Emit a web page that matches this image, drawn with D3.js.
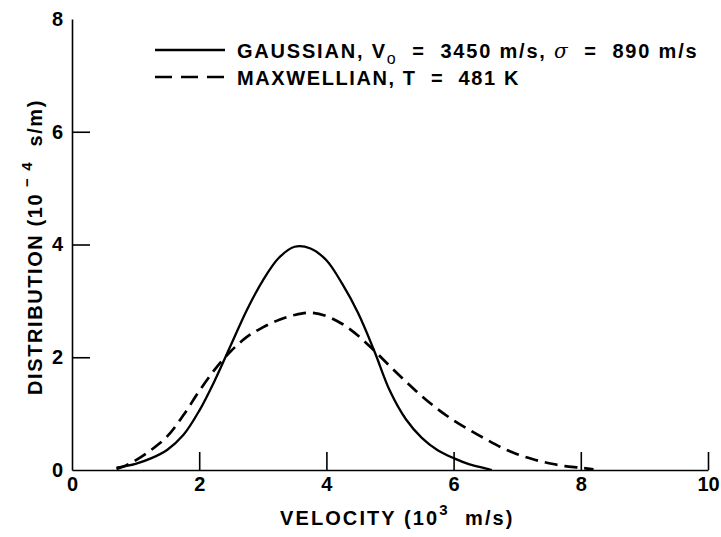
<!DOCTYPE html>
<html>
<head>
<meta charset="utf-8">
<script src="https://cdn.jsdelivr.net/npm/d3@7/dist/d3.min.js"></script>
<style>
  body { margin: 0; background: #fff; }
  svg { display: block; }
  text { font-family: "Liberation Sans", Arial, sans-serif; font-weight: bold; fill: #000; white-space: pre; }
  .axis path, .axis line { stroke: #000; stroke-width: 1.6; }
  .axis text { font-size: 20px; font-family: "Liberation Sans", Arial, sans-serif; }
  .title { font-size: 20px; letter-spacing: 1.6px; }
</style>
</head>
<body>
<div id="chart"></div>
<script>
const width = 721;
const height = 537;

// velocity in 10^3 m/s, distribution in 10^-4 s/m
const gaussV = [0.7, 1.0, 1.25, 1.5, 1.75, 2.0, 2.25, 2.5, 2.75, 3.0, 3.25, 3.5, 3.75, 4.0, 4.25, 4.5, 4.75, 5.0, 5.25, 5.5, 5.75, 6.0, 6.25, 6.5, 6.6];
const gaussD = [0.04, 0.11, 0.21, 0.36, 0.62, 1.05, 1.60, 2.22, 2.84, 3.36, 3.76, 3.96, 3.93, 3.72, 3.30, 2.78, 2.12, 1.40, 0.90, 0.57, 0.35, 0.21, 0.10, 0.03, 0];

const maxwV = [0.7, 0.85, 1.0, 1.25, 1.5, 1.75, 2.0, 2.25, 2.5, 2.75, 3.0, 3.25, 3.5, 3.75, 4.0, 4.25, 4.5, 4.75, 5.0, 5.25, 5.5, 5.75, 6.0, 6.25, 6.5, 6.75, 7.0, 7.25, 7.5, 7.75, 8.0, 8.2];
const maxwD = [0.02, 0.08, 0.17, 0.36, 0.60, 0.97, 1.40, 1.79, 2.11, 2.36, 2.53, 2.66, 2.75, 2.79, 2.73, 2.59, 2.38, 2.12, 1.84, 1.57, 1.31, 1.08, 0.88, 0.71, 0.55, 0.40, 0.28, 0.19, 0.12, 0.07, 0.04, 0.01];

const xTicks = [0, 2, 4, 6, 8, 10];
const yTicks = [0, 2, 4, 6, 8];

const svg = d3.select("#chart")
  .append("svg")
  .attr("width", width)
  .attr("height", height);

const x = d3.scaleLinear().domain([0, 10]).range([72, 708]);
const y = d3.scaleLinear().domain([0, 8]).range([470, 19]);

// axes, ticks pointing inward
svg.append("g")
  .attr("class", "axis")
  .attr("transform", `translate(0,${y(0)})`)
  .call(d3.axisBottom(x).tickValues(xTicks).tickSizeInner(-18).tickSizeOuter(0).tickPadding(7).tickFormat(d3.format("d")))
  .call(g => g.selectAll(".tick").filter(d => d === 0).select("line").remove());

svg.append("g")
  .attr("class", "axis")
  .attr("transform", `translate(${x(0)},0)`)
  .call(d3.axisLeft(y).tickValues(yTicks).tickSizeInner(-18).tickSizeOuter(0).tickPadding(9).tickFormat(d3.format("d")))
  .call(g => g.selectAll(".tick").filter(d => d === 0 || d === 8).select("line").remove());

// curves
const line = d3.line()
  .x(d => x(d[0]))
  .y(d => y(d[1]))
  .curve(d3.curveCatmullRom);

svg.append("path")
  .datum(d3.zip(gaussV, gaussD))
  .attr("fill", "none")
  .attr("stroke", "#000")
  .attr("stroke-width", 2.3)
  .attr("d", line);

svg.append("path")
  .datum(d3.zip(maxwV, maxwD))
  .attr("fill", "none")
  .attr("stroke", "#000")
  .attr("stroke-width", 2.7)
  .attr("stroke-dasharray", "13,7")
  .attr("d", line);

// legend
const legend = svg.append("g");
legend.append("line")
  .attr("x1", 155).attr("x2", 225).attr("y1", 50).attr("y2", 50)
  .attr("stroke", "#000").attr("stroke-width", 2.3);
legend.append("line")
  .attr("x1", 155).attr("x2", 225).attr("y1", 77).attr("y2", 77)
  .attr("stroke", "#000").attr("stroke-width", 2.7)
  .attr("stroke-dasharray", "17,9");

const t1 = legend.append("text")
  .attr("class", "title")
  .attr("x", 237).attr("y", 58)
  .style("letter-spacing", "1.8px");
t1.append("tspan").text("GAUSSIAN, V");
t1.append("tspan").attr("dy", 6).attr("font-size", 16).attr("font-weight", "normal").text("o");
t1.append("tspan").attr("dy", -6).text("  =  3450 m/s, ");
t1.append("tspan").attr("font-style", "italic").attr("font-weight", "normal")
  .attr("font-family", "DejaVu Serif").text("σ");
t1.append("tspan").text("  =  890 m/s");

legend.append("text")
  .attr("class", "title")
  .attr("x", 237).attr("y", 85)
  .text("MAXWELLIAN, T  =  481 K");

// axis titles
const xt = svg.append("text")
  .attr("class", "title")
  .attr("x", 280).attr("y", 525)
  .style("letter-spacing", "2.1px");
xt.append("tspan").text("VELOCITY (10");
xt.append("tspan").attr("dy", -10).attr("font-size", 15).text("3");
xt.append("tspan").attr("dy", 10).text("  m/s)");

const yt = svg.append("text")
  .attr("class", "title")
  .attr("transform", "translate(42,395) rotate(-90)");
yt.append("tspan").text("DISTRIBUTION (10");
yt.append("tspan").attr("dy", -10).attr("font-size", 15).text(" − 4");
yt.append("tspan").attr("dy", 10).text("  s/m)");
</script>
</body>
</html>
